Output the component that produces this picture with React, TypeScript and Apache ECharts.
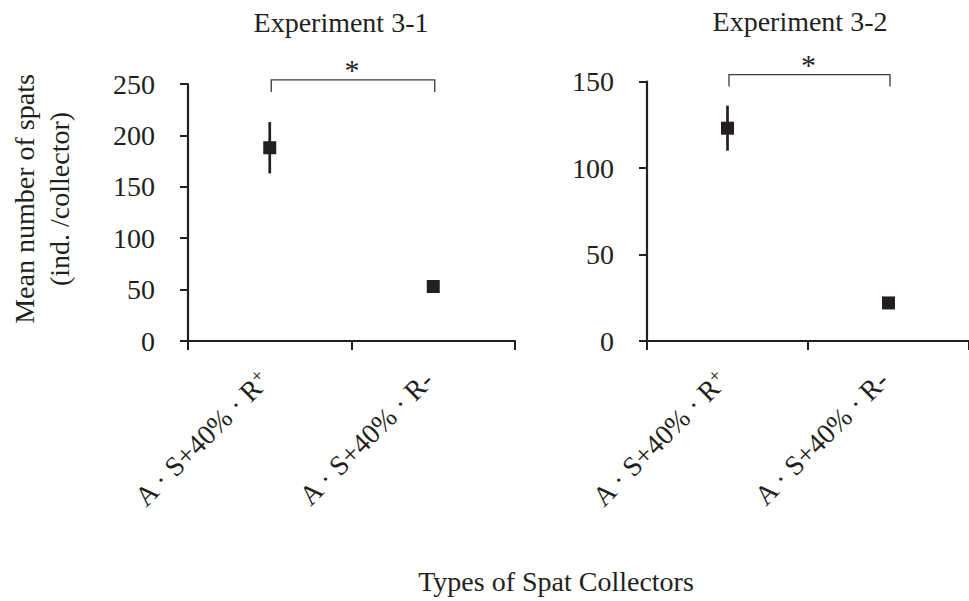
import React, { useEffect, useRef } from "react";
import * as echarts from "echarts";

const categories = ["A · S+40% · R+", "A · S+40% · R-"];
const exp1Mean = [188, 53];
const exp1Err = [25, 6];
const exp2Mean = [123, 22];
const exp2Err = [13, 1];
const exp1Ticks = { min: 0, max: 250, interval: 50 };
const exp2Ticks = { min: 0, max: 150, interval: 50 };
const titles = ["Experiment 3-1", "Experiment 3-2"];
const yName = ["Mean number of spats", "(ind. /collector)"];
const xName = "Types of Spat Collectors";
const bracketLevel = [254, 154];
const signif = ["*", "*"];

const FONT = "'Liberation Serif', 'Times New Roman', serif";
const INK = "#231f20";

export default function App() {
  const ref = useRef<HTMLDivElement>(null);
  useEffect(() => {
    if (!ref.current) return;
    const chart = echarts.init(ref.current, undefined, { renderer: "svg" });

    const xAxisCommon = (gi: number) => ({
      type: "category",
      gridIndex: gi,
      data: categories,
      boundaryGap: true,
      axisLine: { lineStyle: { color: INK, width: 2.2 } },
      axisTick: { show: true, length: 9, alignWithLabel: false, lineStyle: { color: INK, width: 2 } },
      axisLabel: {
        rotate: 45,
        margin: 30,
        padding: [0, 7, 0, 0],
        fontFamily: FONT,
        fontSize: 28,
        color: INK,
        interval: 0,
        formatter: (v: string) => v.replace(/R\+$/, "R{sup|+}"),
        rich: { sup: { fontFamily: FONT, fontSize: 19, color: INK, padding: [0, 0, 12, 0] } },
      },
      splitLine: { show: false },
    });
    const yAxisCommon = (gi: number, t: any) => ({
      type: "value",
      gridIndex: gi,
      min: t.min,
      max: t.max,
      interval: t.interval,
      axisLine: { show: true, lineStyle: { color: INK, width: 2.2 } },
      axisTick: { show: true, length: 8, lineStyle: { color: INK, width: 2 } },
      axisLabel: { margin: 33, fontFamily: FONT, fontSize: 28, color: INK },
      splitLine: { show: false },
    });

    const errRender = (params: any, api: any) => {
      const x = api.value(0);
      const m = api.value(1);
      const e = api.value(2);
      const p1 = api.coord([x, m + e]);
      const p2 = api.coord([x, m - e]);
      return {
        type: "line",
        shape: { x1: p1[0], y1: p1[1], x2: p2[0], y2: p2[1] },
        style: { stroke: INK, lineWidth: 2.7 },
      };
    };

    const series: any[] = [];
    [[exp1Mean, exp1Err], [exp2Mean, exp2Err]].forEach(([mean, err], gi) => {
      series.push({
        type: "custom",
        xAxisIndex: gi,
        yAxisIndex: gi,
        renderItem: errRender,
        data: mean.map((m, i) => [i, m, err[i]]),
        encode: { x: 0, y: 1 },
        clip: false,
        z: 2,
      });
      series.push({
        type: "scatter",
        xAxisIndex: gi,
        yAxisIndex: gi,
        symbol: "rect",
        symbolSize: 13,
        itemStyle: { color: INK, opacity: 1 },
        data: mean.map((m, i) => [i, m]),
        z: 3,
      });
    });

    chart.setOption({
      animation: false,
      backgroundColor: "#ffffff",
      grid: [
        { left: 188, top: 84, width: 327, height: 257 },
        { left: 647, top: 81.5, width: 328, height: 259.5 },
      ],
      xAxis: [xAxisCommon(0), xAxisCommon(1)],
      yAxis: [yAxisCommon(0, exp1Ticks), yAxisCommon(1, exp2Ticks)],
      series,
    });

    const graphics: any[] = [];
    [0, 1].forEach((gi) => {
      const a = chart.convertToPixel({ xAxisIndex: gi, yAxisIndex: gi } as any, [0, bracketLevel[gi]]) as number[];
      const b = chart.convertToPixel({ xAxisIndex: gi, yAxisIndex: gi } as any, [1, bracketLevel[gi]]) as number[];
      const x0 = a[0] + 1.5;
      const x1 = b[0] + 1.5;
      const y = a[1];
      graphics.push({
        type: "polyline",
        shape: { points: [[x0, y + 12], [x0, y], [x1, y], [x1, y + 12]] },
        style: { stroke: "#3a3a3a", lineWidth: 1.3, fill: null },
      });
      graphics.push({
        type: "text",
        x: (x0 + x1) / 2 - 1,
        y: y - 10,
        style: { text: signif[gi], font: `30px ${FONT}`, fill: INK, align: "center", verticalAlign: "middle" },
      });
    });
    graphics.push({
      type: "text",
      x: 341,
      y: 22,
      style: { text: titles[0], font: `28px ${FONT}`, fill: INK, align: "center", verticalAlign: "middle" },
    });
    graphics.push({
      type: "text",
      x: 800,
      y: 21,
      style: { text: titles[1], font: `28px ${FONT}`, fill: INK, align: "center", verticalAlign: "middle" },
    });
    graphics.push({
      type: "text",
      x: 42,
      y: 199,
      rotation: Math.PI / 2,
      style: {
        text: yName.join("\n"),
        font: `28px ${FONT}`,
        lineHeight: 35,
        fill: INK,
        align: "center",
        verticalAlign: "middle",
      },
    });
    graphics.push({
      type: "text",
      x: 556,
      y: 581,
      style: { text: xName, font: `28px ${FONT}`, fill: INK, align: "center", verticalAlign: "middle" },
    });
    chart.setOption({ graphic: graphics });

    return () => chart.dispose();
  }, []);
  return (
    <div
      ref={ref}
      style={{ position: "absolute", left: 0, top: 0, width: 969, height: 601 }}
    />
  );
}
